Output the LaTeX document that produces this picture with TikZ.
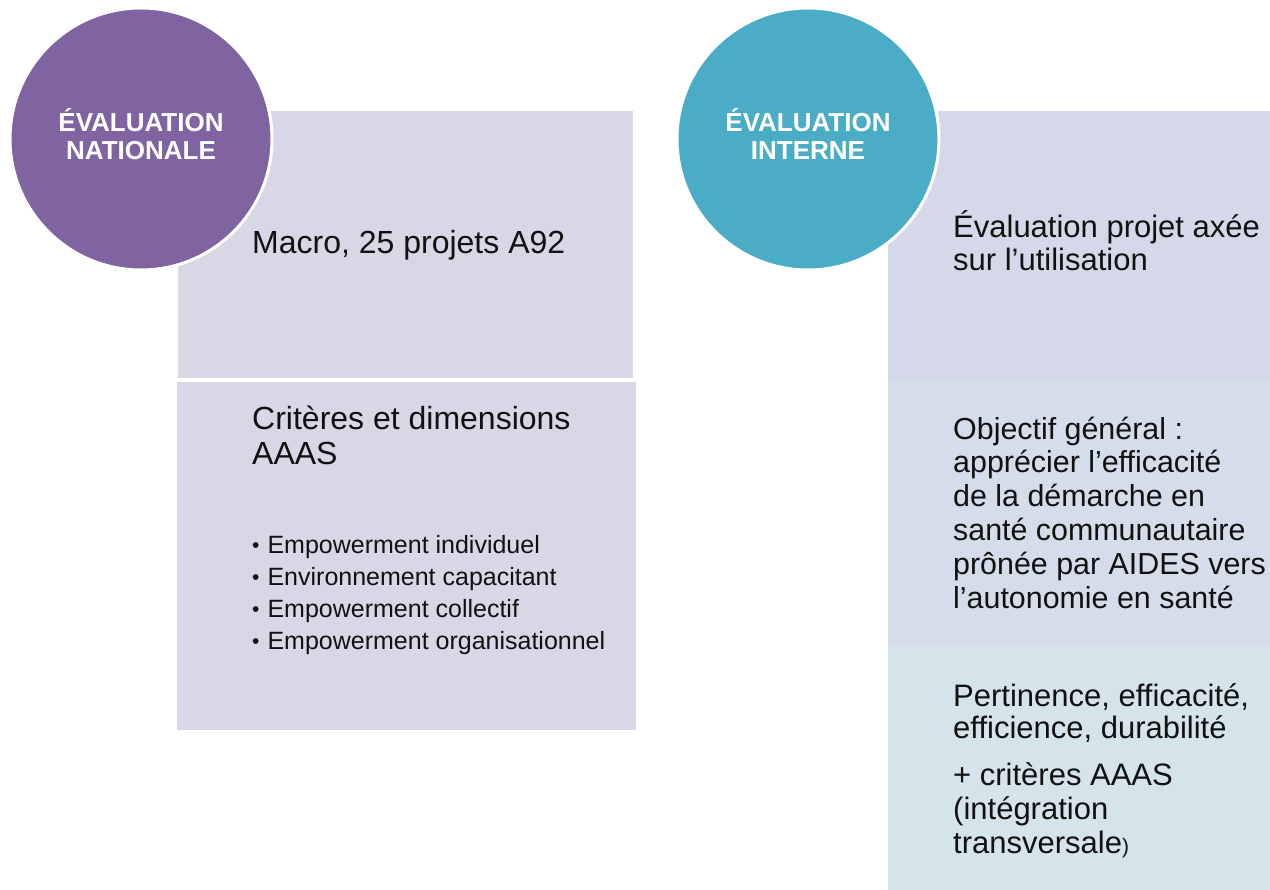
\documentclass[tikz,border=0pt]{standalone}
\usepackage{fontspec}
\setmainfont{Liberation Sans}
\definecolor{natcirc}{HTML}{8064A2}
\definecolor{intcirc}{HTML}{4BACC6}
\definecolor{natbox}{HTML}{D9D6E5}
\definecolor{intboxa}{HTML}{D5D8E8}
\definecolor{intboxb}{HTML}{D4DDE9}
\definecolor{intboxc}{HTML}{D4E4EA}
\definecolor{txt}{HTML}{111111}
\newcommand{\bul}{{\fontsize{21}{21}\selectfont\raisebox{0.5pt}{•}}\hspace{8pt}}
\begin{document}
\begin{tikzpicture}[x=1pt,y=-1pt,
  bigtext/.style={anchor=base west,inner sep=0,align=left,text=txt},
  circlabel/.style={anchor=base,inner sep=0,text=white,align=center,font=\fontsize{26}{28}\bfseries\selectfont},
  circ/.style={circle,draw=white,line width=3pt,minimum size=262pt,inner sep=0}]
\useasboundingbox (0,0) rectangle (1270,890);
\fill[white] (0,0) rectangle (1270,890);
% left panels
\fill[natbox] (178,111) rectangle (633,378);
\fill[natbox] (177,382) rectangle (636,730);
% right panels
\fill[intboxa] (888,111) rectangle (1270,378);
\fill[intboxb] (888,378) rectangle (1270,646);
\fill[intboxc] (888,646) rectangle (1270,890);
% circles
\node[circ,fill=natcirc] (nat) at (141,139) {};
\node[circ,fill=intcirc] (int) at (808,139) {};
\node[circlabel] (natl) at (141,160) {ÉVALUATION\\NATIONALE};
\node[circlabel] (intl) at (808,160) {ÉVALUATION\\INTERNE};
% left texts (base = last line)
\node[bigtext,font=\fontsize{32}{34}\selectfont] (macro) at (252,254) {Macro, 25 projets A92};
\node[bigtext,font=\fontsize{32}{35}\selectfont] (crit) at (252,465) {Critères et dimensions\\AAAS};
\node[bigtext,font=\fontsize{25}{32}\selectfont] (bl) at (252,649) {\bul Empowerment individuel\\\bul Environnement capacitant\\\bul Empowerment collectif\\\bul Empowerment organisationnel};
% right texts
\node[bigtext,font=\fontsize{31}{33}\selectfont] (eval) at (953,271) {Évaluation projet axée\\sur l’utilisation};
\node[bigtext,font=\fontsize{30.4}{33.8}\selectfont] (obj) at (953,608) {Objectif général :\\apprécier l’efficacité\\de la démarche en\\santé communautaire\\prônée par AIDES vers\\l’autonomie en santé};
\node[bigtext,font=\fontsize{31}{32}\selectfont] (pert) at (953,738) {Pertinence, efficacité,\\efficience, durabilité};
\node[bigtext,font=\fontsize{31}{34}\selectfont] (aaas) at (953,853) {+ critères AAAS\\(intégration\\transversale{\fontsize{21}{21}\selectfont)}};
\end{tikzpicture}
\end{document}
